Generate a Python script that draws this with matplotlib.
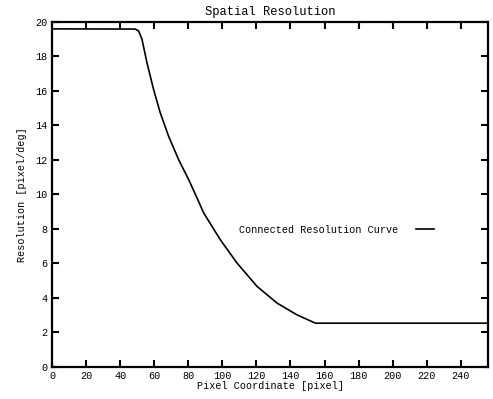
import numpy as np
import matplotlib.pyplot as plt

# points
pixel_x = [0, 48.8, 50.8, 52.8, 55.7, 59.6, 63.5, 68.4, 74.3, 80.2, 85.1, 89.0,
           98.8, 108.6, 120.4, 132.2, 143.9, 154.7, 256]
resolution = [19.6, 19.59, 19.49, 19.01, 17.66, 16.1, 14.75, 13.39, 12.03, 10.87, 9.81, 8.94,
              7.38, 6.03, 4.67, 3.7, 3.02, 2.54, 2.54]

x_ticks = list(range(0, 241, 20))
y_ticks = list(range(0, 21, 2))

plt.rcParams['font.family'] = ['Liberation Mono', 'DejaVu Sans Mono']
plt.rcParams['font.size'] = 7.3

fig = plt.figure(figsize=(4.93, 3.99), dpi=100)
ax = fig.add_axes([0.1055, 0.0802, 0.8844, 0.8647])

ax.plot(pixel_x, resolution, color='black', linewidth=1.2, label='Connected Resolution Curve')

ax.set_xlim(0, 256)
ax.set_ylim(0, 20)
ax.set_xticks(x_ticks)
ax.set_yticks(y_ticks)
ax.tick_params(direction='in', length=5, width=1.5, top=True, right=True, pad=3)
for s in ax.spines.values():
    s.set_linewidth(1.6)

ax.set_title('Spatial Resolution', pad=5)
ax.set_xlabel('Pixel Coordinate [pixel]', labelpad=0)
ax.set_ylabel('Resolution [pixel/deg]', labelpad=6)

ax.legend(loc='center right', bbox_to_anchor=(0.897, 0.397), frameon=False,
          markerfirst=False, handlelength=1.8, handletextpad=1.7)

fig.savefig('out.png', dpi=100)
